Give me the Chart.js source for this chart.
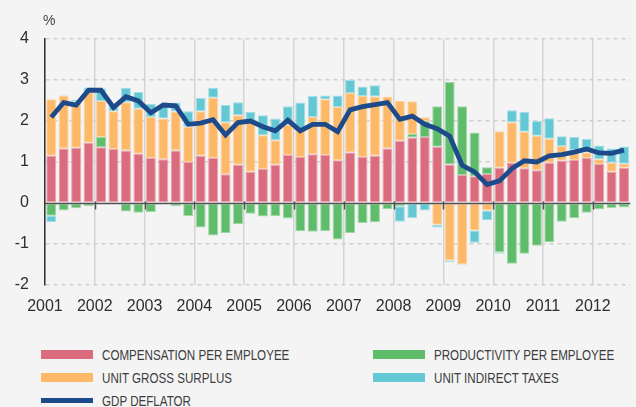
<!DOCTYPE html>
<html>
<head>
<meta charset="utf-8">
<script src="https://cdn.jsdelivr.net/npm/chart.js@4.4.1/dist/chart.umd.min.js"></script>
<style>
  body { margin: 0; background: #f4f4f4; font-family: 'Liberation Sans', Arial, sans-serif; }
  #wrap { position: relative; width: 636px; height: 407px; overflow: hidden; }
  #unit { position: absolute; left: 43px; top: 12px; font-size: 14px; color: #444; }
  .leg { position: absolute; font-family: 'Liberation Sans', Arial, sans-serif; font-size: 14.5px; color: #3c3c3c;
         line-height: 16px; white-space: nowrap; transform: scaleX(0.8); transform-origin: 0 50%; }
  .sw { position: absolute; width: 52px; height: 9px; }
</style>
</head>
<body>
<div id="wrap">
  <canvas id="chart" width="636" height="320"></canvas>
  <div id="unit">%</div>
  <div id="legend"></div>
</div>
<script>
// years on the axis, one bar per quarter (2001 Q1 .. 2012 Q3)
const years = ['2001', '2002', '2003', '2004', '2005', '2006', '2007', '2008', '2009', '2010', '2011', '2012'];
const quartersInLastYear = 3;

const compensation = [1.15, 1.33, 1.35, 1.47, 1.36, 1.32, 1.28, 1.20, 1.10, 1.07, 1.28, 1.00,
  1.15, 1.10, 0.70, 0.93, 0.76, 0.83, 0.93, 1.17, 1.12, 1.19, 1.17, 1.04,
  1.23, 1.12, 1.15, 1.33, 1.52, 1.60, 1.61, 1.37, 0.94, 0.68, 0.65, 0.71,
  0.86, 0.98, 0.85, 0.80, 0.98, 1.03, 1.05, 1.10, 0.95, 0.76, 0.86];
const productivity = [-0.31, -0.18, -0.13, -0.08, 0.25, 0, -0.21, -0.24, -0.22, 0, -0.08, -0.32,
  -0.60, -0.79, -0.73, -0.52, -0.26, -0.33, -0.32, -0.38, -0.69, -0.70, -0.69, -0.89,
  -0.73, -0.49, -0.47, -0.15, -0.08, 0.08, 0.39, 0.99, 2.01, 1.68, 1.07, 0.16,
  -1.21, -1.48, -1.24, -1.04, -0.96, -0.46, -0.37, -0.24, -0.15, -0.12, -0.11];
const grossSurplus = [1.38, 1.29, 1.12, 1.23, 0.88, 0.92, 1.18, 1.10, 1.00, 0.99, 0.95, 0.86,
  1.09, 1.47, 1.27, 1.21, 1.20, 0.82, 0.60, 0.73, 0.68, 0.91, 1.36, 1.30,
  1.45, 1.49, 1.45, 1.27, 0.97, 0.80, 0.09, -0.53, -1.40, -1.50, -0.67, -0.18,
  0.89, 0.99, 0.89, 0.84, 0.59, 0.36, 0.24, 0.13, 0.12, 0.22, 0.10];
const indirectTaxes = [-0.16, 0.02, 0.05, 0.12, 0.30, 0.13, 0.35, 0.41, 0.32, 0.33, 0.22, 0.38,
  0.32, 0.24, 0.42, 0.32, 0.26, 0.49, 0.53, 0.46, 0.65, 0.51, 0.09, 0.28,
  0.32, 0.23, 0.27, 0, -0.38, -0.37, -0.18, -0.07, -0.04, -0.02, -0.30, -0.24,
  -0.03, 0.29, 0.48, 0.36, 0.50, 0.24, 0.32, 0.33, 0.33, 0.35, 0.42];
const gdpDeflator = [2.09, 2.45, 2.39, 2.75, 2.75, 2.33, 2.59, 2.49, 2.20, 2.39, 2.37, 1.92,
  1.95, 2.03, 1.66, 1.96, 2.00, 1.86, 1.76, 2.02, 1.76, 1.92, 1.92, 1.74,
  2.27, 2.35, 2.40, 2.45, 2.04, 2.12, 1.92, 1.81, 1.63, 0.92, 0.76, 0.45,
  0.54, 0.84, 1.03, 1.00, 1.15, 1.18, 1.24, 1.32, 1.22, 1.21, 1.29];

const yTicks = [-2, -1, 0, 1, 2, 3, 4];

const quarters = [];
years.forEach((yr, i) => {
  const n = i === years.length - 1 ? quartersInLastYear : 4;
  for (let q = 1; q <= n; q++) quarters.push(yr + ' Q' + q);
});

const colors = {
  comp: '#db6c7e',
  prod: '#5fbc6b',
  surplus: '#fdb967',
  taxes: '#63c8d4',
  deflator: '#1c4a8a'
};

const barSet = (label, data, color, edge) => ({
  type: 'bar',
  label: label,
  data: data,
  backgroundColor: color,
  borderColor: edge,
  borderWidth: 1,
  borderSkipped: false,
  order: 1
});

// zero line with small year ticks, drawn on top of the bars
const zeroLine = {
  id: 'zeroLine',
  afterDatasetsDraw(chart) {
    const { ctx, chartArea, scales: { x, y } } = chart;
    const y0 = Math.round(y.getPixelForValue(0)) + 0.5;
    ctx.save();
    ctx.strokeStyle = '#505050';
    ctx.lineWidth = 1.5;
    ctx.beginPath();
    ctx.moveTo(chartArea.left, y0);
    ctx.lineTo(chartArea.right, y0);
    for (let i = 4; i < quarters.length; i += 4) {
      const xb = Math.round((x.getPixelForValue(i - 1) + x.getPixelForValue(i)) / 2) + 0.5;
      ctx.moveTo(xb, y0 - 2);
      ctx.lineTo(xb, y0 + 6);
    }
    ctx.stroke();
    ctx.restore();
  }
};

new Chart(document.getElementById('chart'), {
  data: {
    labels: quarters,
    datasets: [
      barSet('COMPENSATION PER EMPLOYEE', compensation, colors.comp, '#e9a4b0'),
      barSet('PRODUCTIVITY PER EMPLOYEE', productivity, colors.prod, '#9fd8a6'),
      barSet('UNIT GROSS SURPLUS', grossSurplus, colors.surplus, '#fed3a2'),
      barSet('UNIT INDIRECT TAXES', indirectTaxes, colors.taxes, '#a2dee5'),
      {
        type: 'line',
        label: 'GDP DEFLATOR',
        data: gdpDeflator,
        borderColor: colors.deflator,
        borderWidth: 4.8,
        pointRadius: 0,
        tension: 0,
        stack: 'line',
        order: 0
      }
    ]
  },
  options: {
    responsive: false,
    animation: false,
    layout: { padding: { top: 39, right: 0, left: 0, bottom: 0 } },
    plugins: { legend: { display: false }, tooltip: { enabled: false } },
    datasets: { bar: { categoryPercentage: 1, barPercentage: 0.8 } },
    scales: {
      x: {
        stacked: true,
        offset: true,
        grid: {
          offset: true,
          drawTicks: false,
          color: (c) => (c.index % 4 === 0 ? '#d4d4d4' : 'rgba(0,0,0,0)'),
          lineWidth: 1.5
        },
        border: { display: false },
        ticks: {
          autoSkip: false,
          maxRotation: 0,
          padding: 12,
          labelOffset: -6.3,
          color: '#2e2e2e',
          font: { family: "'Liberation Sans', Arial, sans-serif", size: 16 },
          callback: (v, i) => (i % 4 === 0 ? quarters[i].slice(0, 4) : '')
        },
        afterFit: (s) => { s.height = 35; }
      },
      y: {
        stacked: true,
        min: yTicks[0],
        max: yTicks[yTicks.length - 1],
        afterBuildTicks: (s) => { s.ticks = yTicks.map((v) => ({ value: v })); },
        grid: {
          drawTicks: false,
          color: (c) => (c.tick && c.tick.value === 0 ? 'rgba(0,0,0,0)' : '#cfcfcf'),
          lineWidth: 1.5
        },
        border: { display: true, color: '#333', width: 1.5, dash: [4, 4] },
        ticks: {
          padding: 16,
          color: '#2e2e2e',
          font: { family: "'Liberation Sans', Arial, sans-serif", size: 16 }
        },
        afterFit: (s) => { s.width = 45; }
      }
    }
  },
  plugins: [zeroLine]
});

// legend: two columns, last entry is the line
const legendItems = [
  { text: 'COMPENSATION PER EMPLOYEE', color: colors.comp, col: 0, row: 0 },
  { text: 'PRODUCTIVITY PER EMPLOYEE', color: colors.prod, col: 1, row: 0 },
  { text: 'UNIT GROSS SURPLUS', color: colors.surplus, col: 0, row: 1 },
  { text: 'UNIT INDIRECT TAXES', color: colors.taxes, col: 1, row: 1 },
  { text: 'GDP DEFLATOR', color: colors.deflator, col: 0, row: 2, line: true }
];
const legendBox = document.getElementById('legend');
legendItems.forEach((it) => {
  const left = it.col === 0 ? 41 : 373;
  const mid = 354.5 + it.row * 23;
  const sw = document.createElement('div');
  sw.className = 'sw';
  sw.style.left = left + 'px';
  sw.style.background = it.color;
  const h = it.line ? 5 : 9;
  sw.style.height = h + 'px';
  sw.style.top = (mid - h / 2) + 'px';
  legendBox.appendChild(sw);
  const t = document.createElement('div');
  t.className = 'leg';
  t.textContent = it.text;
  t.style.left = (left + 61) + 'px';
  t.style.top = (mid - 8) + 'px';
  legendBox.appendChild(t);
});
</script>
</body>
</html>
